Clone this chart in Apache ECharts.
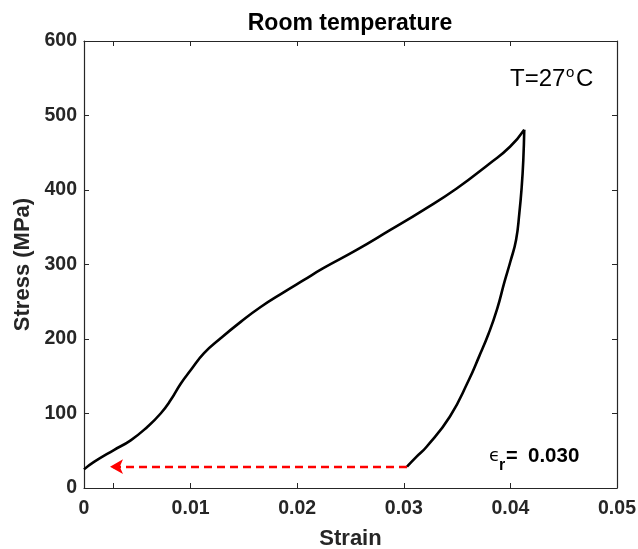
<!DOCTYPE html>
<html>
<head>
<meta charset="utf-8">
<script src="https://cdn.jsdelivr.net/npm/echarts@6/dist/echarts.min.js"></script>
<style>
html,body{margin:0;padding:0;background:#fff;}
#chart{width:638px;height:549px;}
</style>
</head>
<body>
<div id="chart"></div>
<script>
// Loading branch (strain, stress in MPa)
const loadStrain = [0, 0.00094, 0.0028, 0.00438, 0.00594, 0.00719, 0.00813, 0.00907, 0.0100, 0.01126, 0.01282, 0.0147, 0.01657, 0.01876, 0.0206, 0.02245, 0.02558, 0.0287, 0.03183, 0.03496, 0.03809, 0.03996, 0.0413];
const loadStress = [25, 35, 51, 64, 82, 100, 118, 140, 158, 181, 201, 223, 243, 263, 279, 295, 319.5, 346, 373, 402, 436, 458, 481];
// Unloading branch
const unloadStrain = [0.0413, 0.04121, 0.04106, 0.04084, 0.04053, 0.0400, 0.03945, 0.03875, 0.03795, 0.03705, 0.0361, 0.03433, 0.03214, 0.0312, 0.0303];
const unloadStress = [481, 440, 404, 369, 333, 304, 277, 240, 207, 176, 145, 96, 55.4, 42, 28.6];
// Residual strain arrow
const residualStrain = 0.0303;
const arrowTipStrain = 0.00244;
const arrowStress = 28.6;
const residualLabel = '0.030';
// Axes
const xTickValues = [0, 0.0027, 0.01, 0.02, 0.03, 0.04, 0.05];
const xLabelValues = [0, 0.01, 0.02, 0.03, 0.04, 0.05];
const xLabelTexts = ['0', '0.01', '0.02', '0.03', '0.04', '0.05'];
const yMin = 0, yMax = 600, yStep = 100;
const xMin = 0, xMax = 0.05;
const titleText = 'Room temperature';
const xName = 'Strain';
const yName = 'Stress (MPa)';

const zip = (a, b) => a.map((v, i) => [v, b[i]]);
const axisColor = '#262626';
const FONT = '"Liberation Sans", Arial, Helvetica, sans-serif';

const chart = echarts.init(document.getElementById('chart'), null, {renderer: 'canvas'});
const xLabelMap = {};
xLabelValues.forEach((v, i) => { xLabelMap[v.toFixed(4)] = xLabelTexts[i]; });

chart.setOption({
  animation: false,
  backgroundColor: '#ffffff',
  grid: {left: 84, right: 21, top: 41, bottom: 61, containLabel: false, outerBoundsMode: 'none'},
  xAxis: [{
    type: 'value', min: xMin, max: xMax, position: 'bottom',
    name: xName, nameLocation: 'middle', nameGap: 40,
    nameTextStyle: {fontFamily: FONT, fontWeight: 'bold', fontSize: 22, color: axisColor},
    axisLine: {show: true, onZero: false, lineStyle: {color: axisColor, width: 1.2}},
    axisTick: {show: true, inside: true, length: 5, customValues: xTickValues, lineStyle: {color: axisColor, width: 1}},
    axisLabel: {show: true, customValues: xLabelValues, margin: 11, fontFamily: FONT, fontWeight: 'bold', fontSize: 19.5, color: axisColor,
      formatter: v => xLabelMap[v.toFixed(4)] ?? ''},
    splitLine: {show: false}
  }, {
    type: 'value', min: xMin, max: xMax, position: 'top',
    axisLine: {show: true, onZero: false, lineStyle: {color: axisColor, width: 1.2}},
    axisTick: {show: true, inside: true, length: 5, customValues: xTickValues, lineStyle: {color: axisColor, width: 1}},
    axisLabel: {show: false},
    splitLine: {show: false}
  }],
  yAxis: [{
    type: 'value', min: yMin, max: yMax, interval: yStep, position: 'left',
    name: yName, nameLocation: 'middle', nameGap: 48,
    nameTextStyle: {fontFamily: FONT, fontWeight: 'bold', fontSize: 22, color: axisColor},
    axisLine: {show: true, onZero: false, lineStyle: {color: axisColor, width: 1.2}},
    axisTick: {show: true, inside: true, length: 5, lineStyle: {color: axisColor, width: 1}},
    axisLabel: {show: true, margin: 7, fontFamily: FONT, fontWeight: 'bold', fontSize: 19.5, color: axisColor},
    splitLine: {show: false}
  }, {
    type: 'value', min: yMin, max: yMax, interval: yStep, position: 'right',
    axisLine: {show: true, onZero: false, lineStyle: {color: axisColor, width: 1.2}},
    axisTick: {show: true, inside: true, length: 5, lineStyle: {color: axisColor, width: 1}},
    axisLabel: {show: false},
    splitLine: {show: false}
  }],
  series: [{
    type: 'line', name: 'loading', data: zip(loadStrain, loadStress),
    smooth: 0.5, showSymbol: false, symbol: 'none',
    lineStyle: {color: '#000000', width: 2.6}, z: 3
  }, {
    type: 'line', name: 'unloading', data: zip(unloadStrain, unloadStress),
    smooth: 0.5, showSymbol: false, symbol: 'none',
    lineStyle: {color: '#000000', width: 2.6}, z: 3
  }, {
    type: 'line', name: 'residual', data: [], symbol: 'none',
    markLine: {
      silent: true, animation: false,
      symbol: ['none', 'arrow'], symbolSize: [11, 13],
      label: {show: false},
      lineStyle: {color: '#ff0000', width: 2.4, type: [8, 5]},
      data: [[{coord: [residualStrain, arrowStress]}, {coord: [arrowTipStrain, arrowStress]}]]
    }
  }],
  graphic: [
    {type: 'text', style: {text: titleText, x: 350, y: 24, textAlign: 'center', textVerticalAlign: 'middle', font: 'bold 23px ' + FONT, fill: '#000'}},
    {type: 'text', style: {text: 'T=27', x: 510, y: 79, textAlign: 'left', textVerticalAlign: 'middle', font: '24px ' + FONT, fill: '#000'}},
    {type: 'text', style: {text: 'o', x: 566, y: 72.5, textAlign: 'left', textVerticalAlign: 'middle', font: '15px ' + FONT, fill: '#000'}},
    {type: 'text', style: {text: 'C', x: 576, y: 79, textAlign: 'left', textVerticalAlign: 'middle', font: '24px ' + FONT, fill: '#000'}},
    {type: 'text', style: {text: 'ϵ', x: 489, y: 456, textAlign: 'left', textVerticalAlign: 'middle', font: '18px "DejaVu Sans", ' + FONT, fill: '#000'}},
    {type: 'text', style: {text: 'r', x: 499, y: 466, textAlign: 'left', textVerticalAlign: 'middle', font: 'bold 16px ' + FONT, fill: '#000'}},
    {type: 'text', style: {text: '=', x: 506, y: 456, textAlign: 'left', textVerticalAlign: 'middle', font: 'bold 20px ' + FONT, fill: '#000'}},
    {type: 'text', style: {text: residualLabel, x: 528, y: 456, textAlign: 'left', textVerticalAlign: 'middle', font: 'bold 20.5px ' + FONT, fill: '#000'}}
  ]
});
</script>
</body>
</html>
